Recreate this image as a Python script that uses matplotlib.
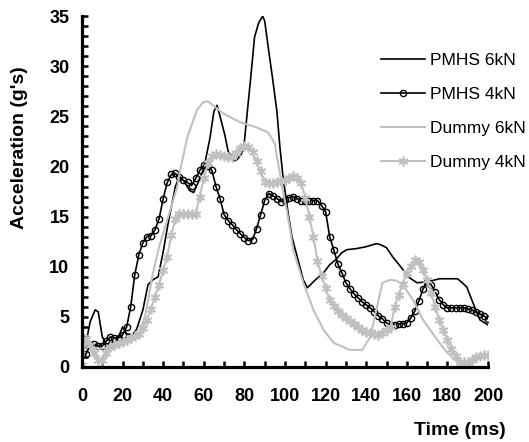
import numpy as np
import matplotlib.pyplot as plt
from matplotlib.ticker import MultipleLocator

plt.rcParams['font.family'] = ['Liberation Sans', 'DejaVu Sans']

# PMHS 6kN (thin black line)
t_p6 = [0, 1, 2, 4, 6.5, 8, 10, 12, 16, 18, 20, 22, 25, 27, 30, 32.5, 35, 37.5, 40,
        42.4, 46, 48, 50, 53, 55, 57, 60, 63, 65, 66.5, 68, 70.4, 72, 74.4, 76, 78.5,
        80, 82, 83, 85, 87, 89, 90, 92, 94, 96, 97.5, 99, 101.5, 103.4, 106, 109, 111,
        115, 119, 122, 125, 128, 130.5, 135, 140, 145, 147, 150, 153, 157, 160.6, 165,
        170.5, 176, 185, 189.5, 192.6, 196, 200]
a_p6 = [4.3, 2.8, 2.4, 4.5, 5.7, 5.5, 3.0, 2.3, 2.5, 3.0, 4.0, 3.3, 3.2, 3.8, 5.7, 8.2,
        8.7, 9.0, 11.5, 14.3, 18.0, 19.0, 18.6, 17.6, 17.4, 18.3, 19.8, 22.8, 25.5, 26.1,
        25.0, 23.1, 21.5, 20.6, 20.6, 21.2, 22.5, 26.6, 28.6, 32.9, 34.3, 35.0, 34.5,
        31.5, 28.6, 25.5, 21.9, 19.0, 15.4, 13.0, 11.0, 8.7, 7.9, 8.7, 9.4, 10.2, 10.7,
        11.4, 11.7, 11.8, 12.0, 12.3, 12.2, 11.9, 11.0, 10.0, 9.0, 8.4, 8.5, 8.8, 8.8,
        8.0, 6.4, 4.7, 4.2]

# PMHS 4kN (black with circles), every 2 ms
t_p4 = list(range(0, 201, 2))
a_p4 = [1.2, 1.3, 2.2, 2.3, 2.1, 2.1, 2.6, 3.0, 2.9, 2.9, 3.2, 4.0, 6.0, 9.2, 11.2,
        12.4, 13.0, 13.1, 13.7, 14.8, 16.8, 18.4, 19.2, 19.3, 18.9, 18.6, 18.4, 18.1,
        18.8, 19.6, 20.1, 20.0, 19.6, 18.0, 16.8, 15.2, 14.6, 14.2, 13.7, 13.3, 12.9,
        12.6, 12.7, 13.8, 15.2, 16.6, 17.3, 17.1, 16.8, 16.5, 16.7, 16.9, 17.0, 16.8,
        16.6, 16.6, 16.6, 16.6, 16.6, 16.1, 15.5, 13.0, 11.7, 10.3, 9.4, 8.4, 7.8, 7.3,
        6.9, 6.5, 6.2, 5.9, 5.5, 5.1, 4.8, 4.4, 4.2, 4.2, 4.3, 4.3, 4.4, 4.9, 5.6, 6.6,
        7.8, 8.5, 8.2, 7.5, 6.7, 6.2, 5.9, 5.9, 5.9, 5.9, 5.9, 5.8, 5.7, 5.5, 5.3, 5.1,
        4.8]

# Dummy 6kN (thin light grey line)
t_d6 = [0, 3, 8, 12, 18, 24, 28, 31, 35, 38, 41, 44, 47, 48, 52, 56.6, 59.6, 62, 64.5,
        69.5, 78, 86, 91.6, 95, 96.6, 99, 101, 102.5, 104, 109, 114, 119, 124, 132, 138,
        142, 145, 148, 152, 155, 158, 163, 168, 175, 180, 185, 190, 195, 200]
a_d6 = [2.8, 2.2, 1.8, 1.9, 2.2, 2.8, 3.4, 5.0, 9.4, 12.0, 14.0, 16.0, 18.0, 19.3, 23.0,
        25.6, 26.4, 26.5, 26.1, 25.3, 24.4, 23.9, 23.4, 22.3, 20.3, 17.5, 15.5, 13.7,
        11.7, 8.4, 5.7, 3.7, 2.4, 1.7, 1.7, 3.0, 5.7, 8.4, 8.7, 8.6, 8.2, 6.7, 4.7, 2.7,
        1.4, 0.5, 0.3, 0.8, 1.0]

# Dummy 4kN (grey with stars), every 2 ms
t_d4 = list(range(0, 201, 2))
a_d4 = [0.2, 2.8, 2.2, 1.4, 0.7, 0.7, 1.4, 2.0, 2.2, 2.4, 2.5, 2.7, 2.9, 3.1, 3.3, 3.9,
        4.7, 5.8, 7.0, 8.2, 9.7, 11.0, 13.2, 14.8, 15.3, 15.3, 15.3, 15.3, 15.3, 17.0,
        18.8, 20.3, 21.0, 21.2, 21.1, 21.0, 20.9, 20.9, 21.3, 21.8, 22.0, 21.9, 21.4,
        20.5, 19.5, 18.4, 18.3, 18.3, 18.4, 18.5, 18.6, 18.8, 19.0, 18.8, 18.3, 16.9,
        15.0, 13.0, 10.6, 9.1, 7.9, 6.7, 6.1, 5.6, 5.2, 4.9, 4.6, 4.3, 4.0, 3.7, 3.5,
        3.4, 3.3, 3.2, 3.4, 3.7, 4.0, 6.0, 7.2, 8.3, 9.4, 10.1, 10.7, 10.5, 9.7, 8.7,
        7.4, 6.0, 4.7, 3.7, 2.7, 1.8, 1.1, 0.5, 0.5, 0.5, 0.7, 1.0, 1.1, 1.2, 1.2]

grey = '#c0c0c0'

fig = plt.figure(figsize=(5.29, 4.42), dpi=100)
ax = fig.add_axes([0.155, 0.1697, 0.7675, 0.794])

ax.plot(t_p6, a_p6, color='black', lw=1.2, label='PMHS 6kN')
ax.plot(t_p4, a_p4, color='black', lw=1.2, marker='o', ms=4.5, mfc='none',
        mec='black', mew=1.0, label='PMHS 4kN')
ax.plot(t_d6, a_d6, color=grey, lw=1.5, label='Dummy 6kN')
ax.plot(t_d4, a_d4, color=grey, lw=1.5, marker=(6, 2, 0), ms=7, mec=grey,
        mew=1.3, label='Dummy 4kN')

ax.set_xlim(0, 200)
ax.set_ylim(0, 35)
for s in ['top', 'right']:
    ax.spines[s].set_visible(False)
for s in ['left', 'bottom']:
    ax.spines[s].set_linewidth(2.3)

ax.xaxis.set_major_locator(MultipleLocator(20))
ax.xaxis.set_minor_locator(MultipleLocator(10))
ax.yaxis.set_major_locator(MultipleLocator(5))
ax.yaxis.set_minor_locator(MultipleLocator(1))
ax.tick_params(which='both', direction='in', width=1.8, length=4)
ax.tick_params(axis='both', which='major', labelsize=13)
ax.tick_params(axis='x', which='major', pad=15)
ax.tick_params(axis='y', which='major', pad=9)
for lab in ax.get_xticklabels() + ax.get_yticklabels():
    lab.set_fontweight('bold')

fig.text(0.036, 0.665, "Acceleration (g's)", rotation=90, fontsize=14,
         fontweight='bold', ha='center', va='center')
fig.text(0.87, 0.027, 'Time (ms)', fontsize=14, fontweight='bold',
         ha='center', va='center')

ax.legend(loc='upper left', bbox_to_anchor=(0.72, 0.915), frameon=False,
          fontsize=12.5, handlelength=2.5, labelspacing=1.08, handletextpad=0.3,
          borderaxespad=0)

fig.savefig('out.png', dpi=100)
